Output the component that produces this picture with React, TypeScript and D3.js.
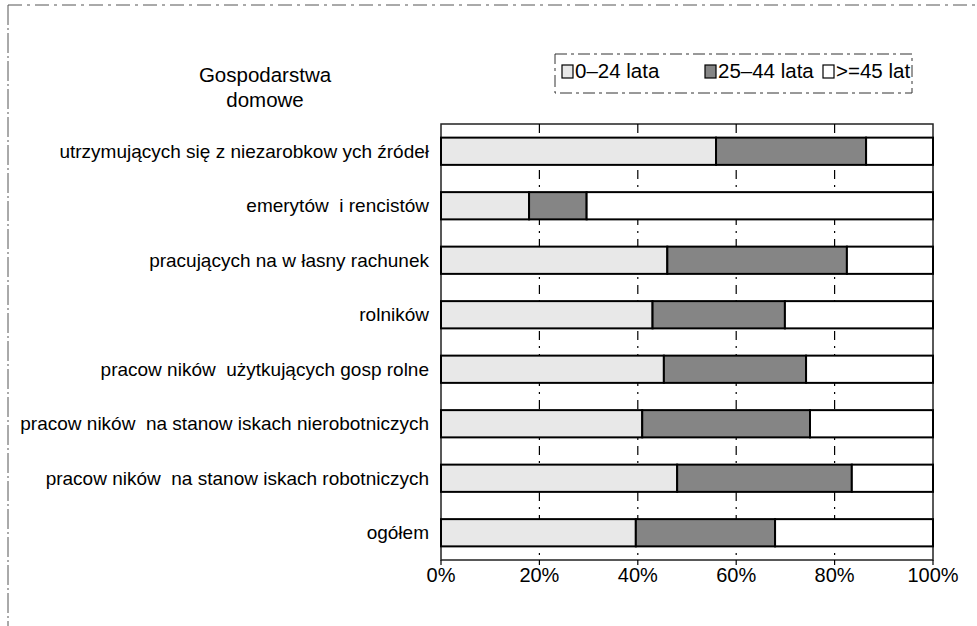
import React from "react";
import * as d3 from "d3";

const categories = [
  "utrzymujących się z niezarobkow ych źródeł",
  "emerytów  i rencistów",
  "pracujących na w łasny rachunek",
  "rolników",
  "pracow ników  użytkujących gosp rolne",
  "pracow ników  na stanow iskach nierobotniczych",
  "pracow ników  na stanow iskach robotniczych",
  "ogółem",
];
const seriesNames = ["0–24 lata", "25–44 lata", ">=45 lat"];
const age0_24 = [55.9, 17.9, 46.0, 43.0, 45.3, 40.9, 48.0, 39.6];
const age25_44 = [30.5, 11.7, 36.5, 26.9, 28.9, 34.1, 35.5, 28.3];
const age45plus = [13.6, 70.4, 17.5, 30.1, 25.8, 25.0, 16.5, 32.1];
const tickValues = [0, 0.2, 0.4, 0.6, 0.8, 1];
const titleLines = ["Gospodarstwa", "domowe"];

const W = 977;
const H = 626;
const left = 441;
const right = 933;
const top = 124;
const bottom = 560;
const fills = ["#e8e8e8", "#858585", "#ffffff"];
const font = "Arial, 'Liberation Sans', sans-serif";
const legendX = [562, 705, 823];

export default function App() {
  const rows = categories.map((c, i) => ({
    cat: c,
    s0: age0_24[i],
    s1: age25_44[i],
    s2: age45plus[i],
  }));
  const stack = d3.stack<any>().keys(["s0", "s1", "s2"]).offset(d3.stackOffsetExpand);
  const layers = stack(rows);
  const x = d3.scaleLinear().domain([0, 1]).range([left, right]);
  const y = d3
    .scaleBand<string>()
    .domain(categories)
    .range([top, bottom])
    .paddingInner(0.5)
    .paddingOuter(0.25);

  return (
    <svg
      width={W}
      height={H}
      style={{ position: "absolute", left: 0, top: 0, display: "block", background: "#fff" }}
      fontFamily={font}
    >
      {/* outer scanned frame */}
      <line x1={8} x2={W} y1={5} y2={5} stroke="#555" strokeDasharray="14 5 3 5" strokeWidth={1} />
      <line x1={8} x2={8} y1={5} y2={H} stroke="#555" strokeDasharray="20 3 2 3" strokeWidth={1} />

      {/* title */}
      {titleLines.map((t, i) => (
        <text key={t} x={265} y={82 + i * 25} textAnchor="middle" fontSize={20.5} fill="#000">
          {t}
        </text>
      ))}

      {/* legend */}
      <rect x={555} y={54} width={357} height={39} fill="none" stroke="#333" strokeDasharray="12 4 3 4" />
      {seriesNames.map((label, i) => (
        <g key={label}>
          <rect x={legendX[i]} y={65} width={11} height={13} fill={fills[i]} stroke="#000" strokeWidth={1.2} />
          <text x={legendX[i] + 13} y={78} fontSize={20.5} fill="#000">
            {label}
          </text>
        </g>
      ))}

      {/* plot area */}
      <rect x={left} y={top} width={right - left} height={bottom - top} fill="#fff" stroke="#222" strokeWidth={1.5} />

      {/* grid */}
      {tickValues.slice(1, -1).map((t) => (
        <line
          key={t}
          x1={x(t)}
          x2={x(t)}
          y1={top}
          y2={bottom}
          stroke="#000"
          strokeWidth={1.2}
          strokeDasharray="9 6 2 6"
        />
      ))}

      {/* bars */}
      {layers.map((layer, li) => (
        <g key={layer.key}>
          {layer.map((d, i) => (
            <rect
              key={i}
              x={x(d[0])}
              y={y(categories[i])}
              width={x(d[1]) - x(d[0])}
              height={y.bandwidth()}
              fill={fills[li]}
              stroke="#000"
              strokeWidth={2}
            />
          ))}
        </g>
      ))}

      {/* category labels */}
      {categories.map((c) => (
        <text
          key={c}
          x={429}
          y={(y(c) as number) + y.bandwidth() / 2}
          dy="0.35em"
          textAnchor="end"
          fontSize={19}
          fill="#000"
          style={{ whiteSpace: "pre" }}
        >
          {c}
        </text>
      ))}

      {/* x axis ticks */}
      {tickValues.map((t) => (
        <g key={t}>
          <line x1={x(t)} x2={x(t)} y1={bottom} y2={bottom + 5} stroke="#000" strokeWidth={1.2} />
          <text x={x(t)} y={582} textAnchor="middle" fontSize={20} fill="#000">
            {d3.format(".0%")(t)}
          </text>
        </g>
      ))}
    </svg>
  );
}
